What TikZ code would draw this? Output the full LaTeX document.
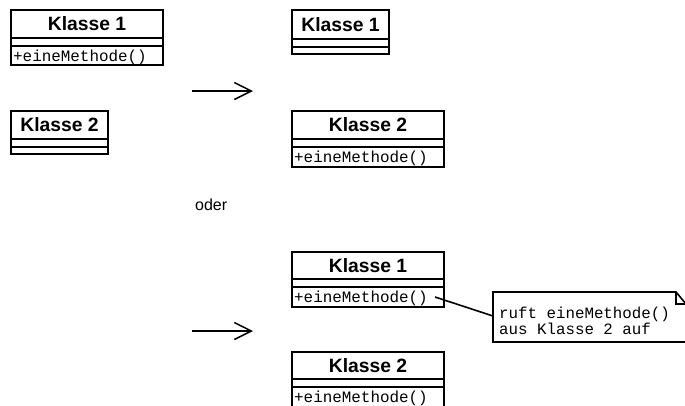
\documentclass[tikz,border=0pt]{standalone}
\usepackage{fontspec}
\setmainfont{Liberation Sans}
\setmonofont{Liberation Mono}
\usetikzlibrary{arrows.meta,calc}
\newcommand\umlclassbox[8]{% id, x, width, top, title, titleheight, opheight, method text
  \node[ttlbox, minimum width=#3, minimum height=#6] (#1t) at (#2,#4) {#5};
  \node[rowbox, minimum width=#3, minimum height=8pt] (#1a) at (#1t.south west) {};
  \node[rowbox, minimum width=#3, minimum height=#7] (#1o) at (#1a.south west) {};
  \node[mth] (#1m) at ($(#1o.north west)+(2,15)$) {#8};
}
\begin{document}
\begin{tikzpicture}[x=1pt,y=-1pt,
  ttlbox/.style={draw, line width=1.7pt, inner sep=0pt, outer sep=0pt, anchor=north west,
    font=\fontsize{19.3}{21}\selectfont\bfseries},
  rowbox/.style={draw, line width=1.7pt, inner sep=0pt, outer sep=0pt, anchor=north west},
  mth/.style={anchor=base west, inner sep=0pt, font=\fontsize{15.9}{17}\selectfont\ttfamily},
  notetxt/.style={anchor=base west, inner sep=0pt, font=\fontsize{15.8}{17}\selectfont\ttfamily},
  arr/.style={line width=1.5pt, -{Straight Barb[length=17pt,width=17pt,line width=1.5pt]}},
  link/.style={line width=1.6pt},
]
\useasboundingbox (0,0) rectangle (685,405);

% top left
\umlclassbox{a1}{11}{152pt}{10}{Klasse 1}{28pt}{19pt}{+eineMethode()}
\umlclassbox{a2}{11}{97pt}{111}{Klasse 2}{28pt}{7pt}{}

% top right
\umlclassbox{b1}{292}{97pt}{10}{Klasse 1}{29pt}{7pt}{}
\umlclassbox{b2}{292}{152pt}{111}{Klasse 2}{28pt}{20pt}{+eineMethode()}

% bottom right
\umlclassbox{c1}{292}{152pt}{252}{Klasse 1}{27pt}{20pt}{+eineMethode()}
\umlclassbox{c2}{292}{152pt}{352}{Klasse 2}{27pt}{20pt}{+eineMethode()}

% arrows
\coordinate (ar1s) at (192,91);
\coordinate (ar1e) at (253,91);
\draw[arr] (ar1s) -- (ar1e);
\coordinate (ar2s) at (192,331);
\coordinate (ar2e) at (253,331);
\draw[arr] (ar2s) -- (ar2e);

\node[anchor=base west, inner sep=0pt, font=\fontsize{16}{18}\selectfont] (oder) at (195,210) {oder};

% note
\node[anchor=north west, inner sep=0pt, outer sep=0pt, minimum width=193pt, minimum height=50pt] (note) at (493,292) {};
\draw[link, line join=miter] (note.north west) -- ++(183,0) coordinate (fold) -- ++(10,12) -- (note.south east) -- (note.south west) -- cycle;
\draw[line width=1.2pt] (fold) -- ++(0,12) -- ++(10,0);
\node[notetxt] (n1) at (499,318) {ruft eineMethode()};
\node[notetxt] (n2) at (499,334) {aus Klasse 2 auf};

% connector
\coordinate (lk) at (435,297);
\draw[link] (lk) -- ($(note.north west)!0.48!(note.south west)$);
\end{tikzpicture}
\end{document}
